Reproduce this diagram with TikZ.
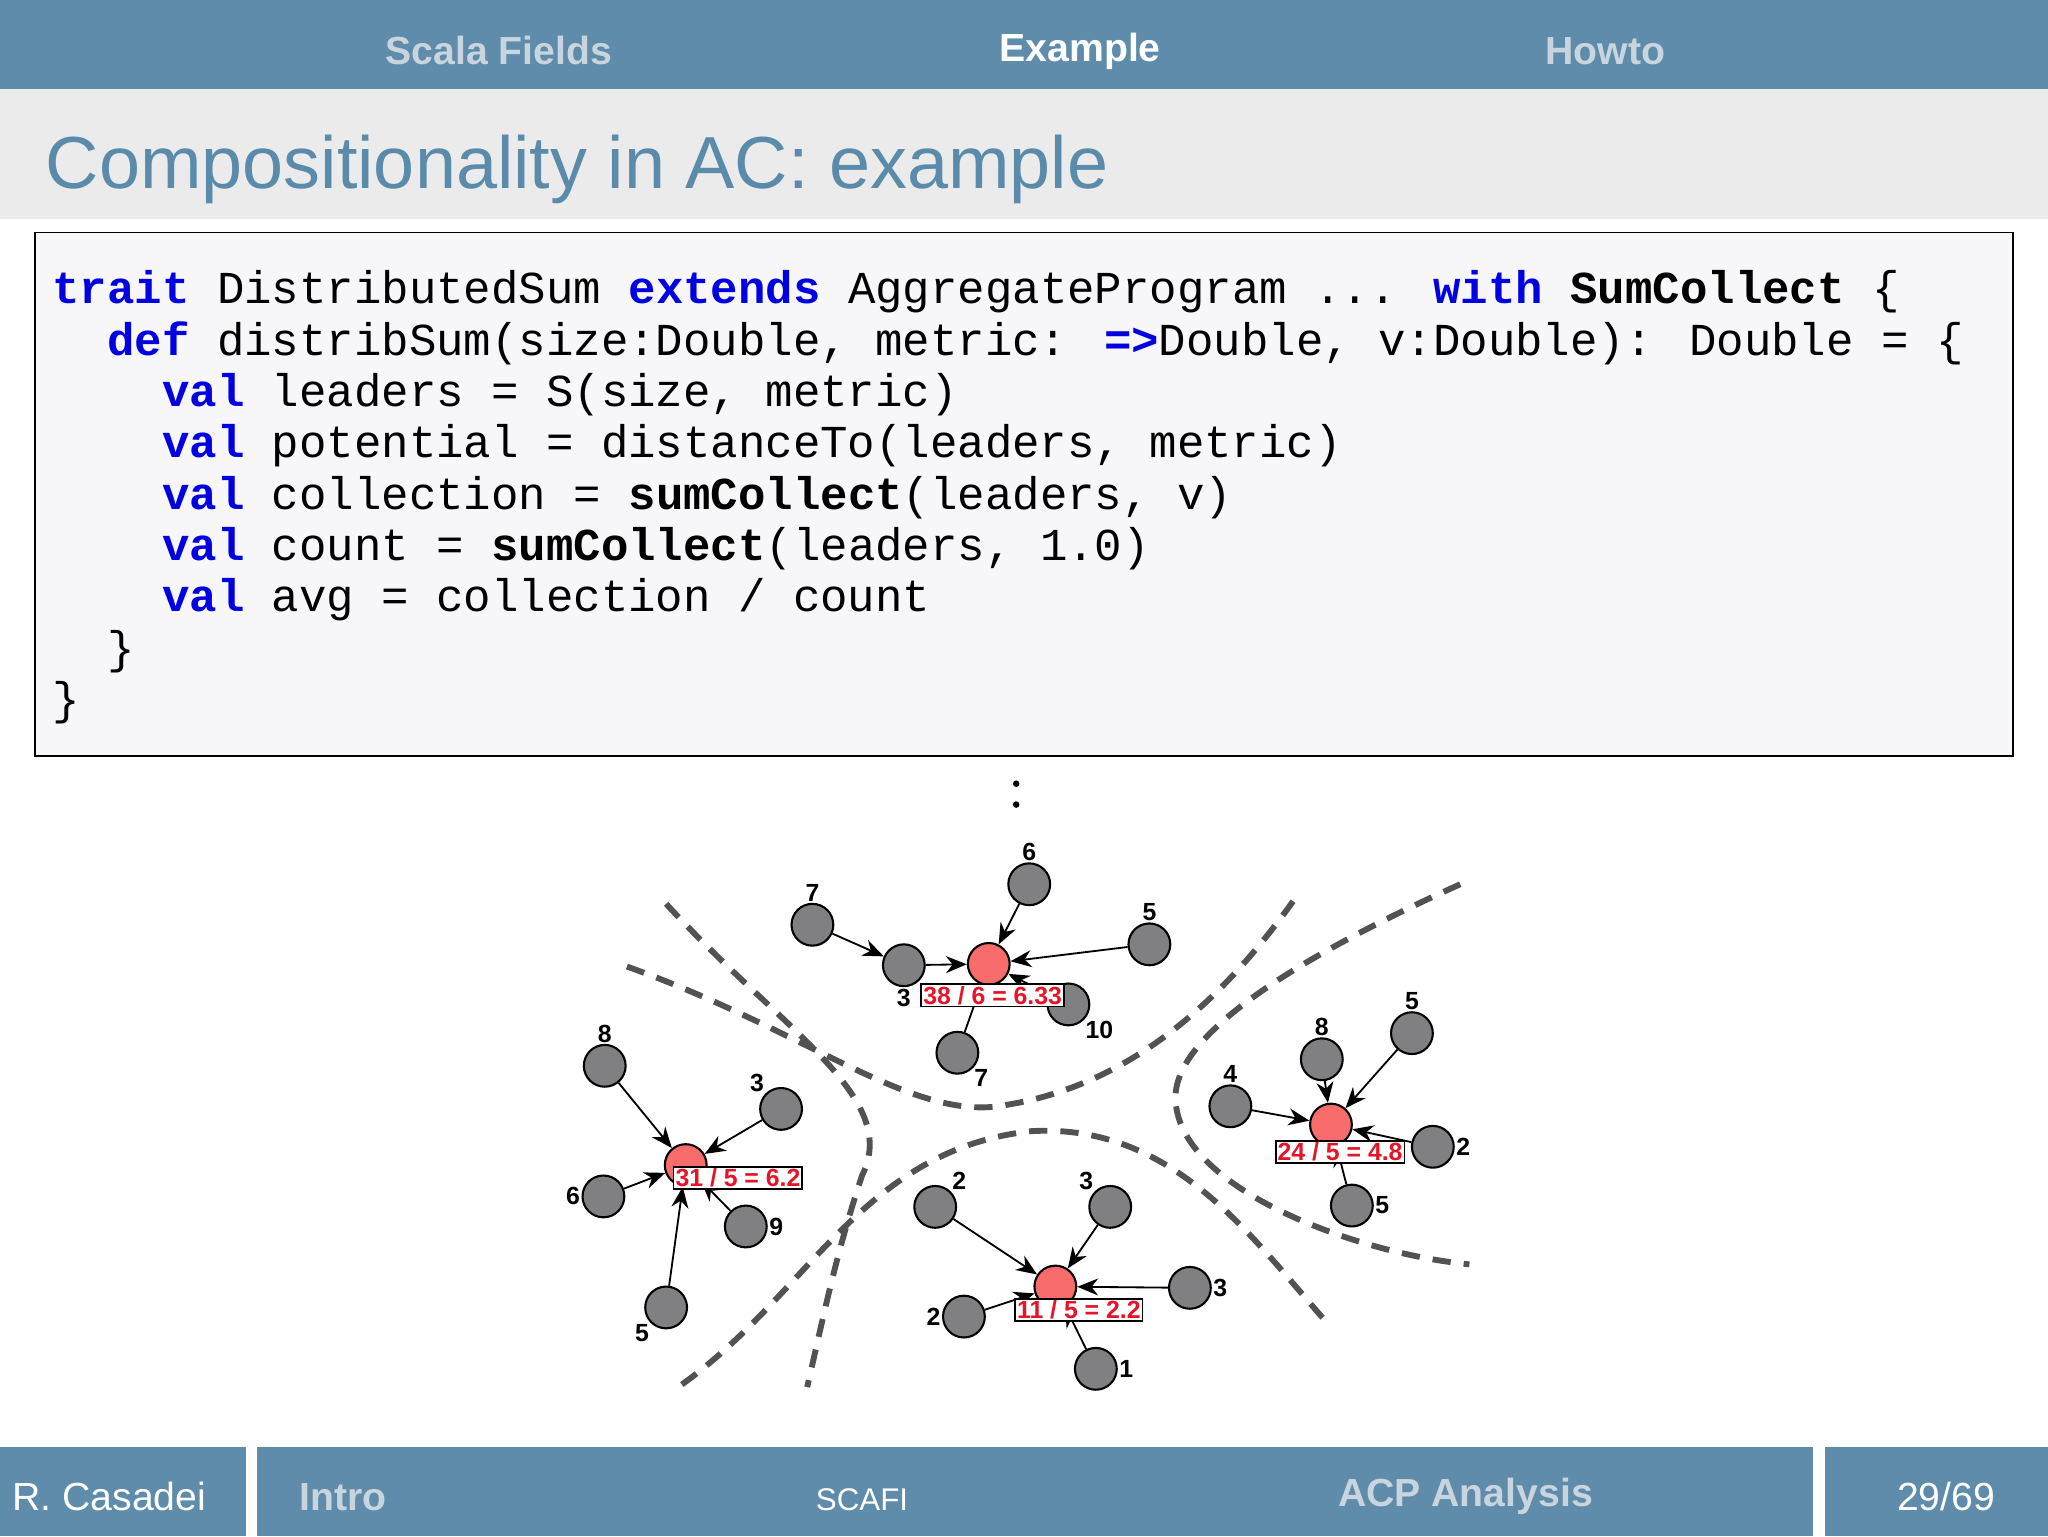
\documentclass[tikz,border=0pt]{standalone}
\usepackage{fontspec}
\setmainfont{Liberation Sans}
\newfontfamily\codefont{Liberation Mono}
\usetikzlibrary{arrows.meta}
\definecolor{barblue}{RGB}{94,140,170}
\definecolor{titleblue}{RGB}{91,139,170}
\definecolor{bandgray}{RGB}{235,235,235}
\definecolor{dimtext}{RGB}{200,212,222}
\definecolor{codebg}{RGB}{247,247,250}
\definecolor{kwblue}{RGB}{0,0,225}
\definecolor{nodered}{RGB}{248,108,108}
\definecolor{nodegray}{RGB}{128,128,130}
\definecolor{valred}{RGB}{230,20,40}
\newcommand{\kw}[1]{\textbf{\textcolor{kwblue}{#1}}}
\newcommand{\ident}[1]{\textbf{#1}}
\begin{document}
\begin{tikzpicture}[x=1pt,y=-1pt,
    dev/.style={circle, draw, line width=1.6pt, fill=nodegray, minimum size=32pt, inner sep=0pt},
    hub/.style={dev, fill=nodered},
    num/.style={font=\bfseries\fontsize{19}{19}\selectfont, inner sep=1pt},
    val/.style={draw, line width=1.4pt, fill=white, inner sep=1.5pt, text=valred, font=\bfseries\fontsize{19}{19}\selectfont},
    link/.style={-{Stealth[length=16pt,width=13pt]}, line width=1.4pt},
    border/.style={line width=4.5pt, color=black!68, dash pattern=on 14pt off 10pt},
    codeline/.style={anchor=base west, inner sep=0pt, font=\codefont\fontsize{35}{35}\selectfont}
]
    \useasboundingbox (0,0) rectangle (1568,1176);
    % Header
    \fill[barblue] (0,0) rectangle (1568,68);
    \node[text=dimtext, font=\bfseries\fontsize{30}{30}\selectfont] (tabfields) at (382,39) {Scala Fields};
    \node[text=white, font=\bfseries\fontsize{30}{30}\selectfont] (tabexample) at (827,39) {Example};
    \node[text=dimtext, font=\bfseries\fontsize{30}{30}\selectfont] (tabhowto) at (1229,39) {Howto};
    \fill[bandgray] (0,68) rectangle (1568,168);
    \node[anchor=base west, inner sep=0pt, text=titleblue, font=\fontsize{56.5}{56.5}\selectfont] (title) at (35,144) {Compositionality in AC: example};

    % Code
    \draw[line width=1.4pt, fill=codebg] (27,178) rectangle (1541,579);
    \node[codeline] (c1) at (40,232) {\kw{trait} DistributedSum \kw{extends} AggregateProgram ... \kw{with} \ident{SumCollect} \{};
    \node[codeline] (c2) at (82,272) {\kw{def} distribSum(size:Double, metric: \kw{=>}Double, v:Double): Double = \{};
    \node[codeline] (c3) at (124,311) {\kw{val} leaders = S(size, metric)};
    \node[codeline] (c4) at (124,350) {\kw{val} potential = distanceTo(leaders, metric)};
    \node[codeline] (c5) at (124,390) {\kw{val} collection = \ident{sumCollect}(leaders, v)};
    \node[codeline] (c6) at (124,429) {\kw{val} count = \ident{sumCollect}(leaders, 1.0)};
    \node[codeline] (c7) at (124,468) {\kw{val} avg = collection / count};
    \node[codeline] (c8) at (82,508) {\}};
    \node[codeline] (c9) at (40,547) {\}};

    % Dots
    \fill (778,600) circle (2.5pt);
    \fill (778,616) circle (2.5pt);

    % Region borders
    \draw[border] (510,692) .. controls (600,790) and (690,840) .. (660,900) .. controls (640,960) and (630,1010) .. (618,1062);
    \draw[border] (480,740) .. controls (620,790) and (700,860) .. (770,846) .. controls (870,830) and (940,760) .. (990,690);
    \draw[border] (1118,677) .. controls (1000,730) and (900,790) .. (900,840) .. controls (900,910) and (1040,960) .. (1125,968);
    \draw[border] (522,1060) .. controls (620,990) and (660,880) .. (790,866) .. controls (900,860) and (960,950) .. (1018,1015);

    % Top cluster
    \node[hub] (th) at (757,738) {};
    \node[dev, label={[num]above:7}] (ta) at (622,708) {};
    \node[dev, label={[num]below:3}] (tb) at (692,739) {};
    \node[dev, label={[num]above:6}] (tc) at (788,677) {};
    \node[dev, label={[num]above:5}] (td) at (880,723) {};
    \node[dev, label={[num]below right:10}] (te) at (818,769) {};
    \node[dev, label={[num]below right:7}] (tf) at (733,806) {};
    \draw[link] (ta) -- (tb);
    \draw[link] (tb) -- (th);
    \draw[link] (tc) -- (th);
    \draw[link] (td) -- (th);
    \draw[link] (te) -- (th);
    \draw[link] (tf) -- (th);
    \node[val] (tv) at (760,762) {38 / 6 = 6.33};

    % Left cluster
    \node[hub] (lh) at (525,892) {};
    \node[dev, label={[num]above:8}] (la) at (463,816) {};
    \node[dev, label={[num]above left:3}] (lb) at (598,849) {};
    \node[dev, label={[num]left:6}] (lc) at (462,916) {};
    \node[dev, label={[num]right:9}] (ld) at (571,939) {};
    \node[dev, label={[num]below left:5}] (le) at (510,1001) {};
    \draw[link] (la) -- (lh);
    \draw[link] (lb) -- (lh);
    \draw[link] (lc) -- (lh);
    \draw[link] (ld) -- (lh);
    \draw[link] (le) -- (lh);
    \node[val] (lv) at (565,902) {31 / 5 = 6.2};

    % Bottom cluster
    \node[hub] (bh) at (808,985) {};
    \node[dev, label={[num]above right:2}] (ba) at (716,924) {};
    \node[dev, label={[num]above left:3}] (bb) at (850,924) {};
    \node[dev, label={[num]right:3}] (bc) at (911,986) {};
    \node[dev, label={[num]left:2}] (bd) at (738,1008) {};
    \node[dev, label={[num]right:1}] (be) at (839,1048) {};
    \draw[link] (ba) -- (bh);
    \draw[link] (bb) -- (bh);
    \draw[link] (bc) -- (bh);
    \draw[link] (bd) -- (bh);
    \draw[link] (be) -- (bh);
    \node[val] (bv) at (826,1003) {11 / 5 = 2.2};

    % Right cluster
    \node[hub] (rh) at (1019,861) {};
    \node[dev, label={[num]above:4}] (ra) at (942,847) {};
    \node[dev, label={[num]above:8}] (rb) at (1012,811) {};
    \node[dev, label={[num]above:5}] (rc) at (1081,791) {};
    \node[dev, label={[num]right:2}] (rd) at (1097,878) {};
    \node[dev, label={[num]right:5}] (re) at (1035,923) {};
    \draw[link] (ra) -- (rh);
    \draw[link] (rb) -- (rh);
    \draw[link] (rc) -- (rh);
    \draw[link] (rd) -- (rh);
    \draw[link] (re) -- (rh);
    \node[val] (rv) at (1026,882) {24 / 5 = 4.8};

    % Footer
    \fill[barblue] (0,1108) rectangle (188,1176);
    \fill[barblue] (197,1108) rectangle (1388,1176);
    \fill[barblue] (1397,1108) rectangle (1568,1176);
    \node[anchor=west, text=white, font=\fontsize{30}{30}\selectfont] (author) at (6,1146) {R. Casadei};
    \node[anchor=west, text=dimtext, font=\bfseries\fontsize{30}{30}\selectfont] (secintro) at (226,1146) {Intro};
    \node[text=white, font=\fontsize{24}{24}\selectfont] (secscafi) at (660,1148) {SCAFI};
    \node[text=dimtext, font=\bfseries\fontsize{30}{30}\selectfont] (secacp) at (1122,1146) {ACP Analysis};
    \node[text=white, font=\fontsize{30}{30}\selectfont] (pageno) at (1490,1146) {29/69};
\end{tikzpicture}
\end{document}
